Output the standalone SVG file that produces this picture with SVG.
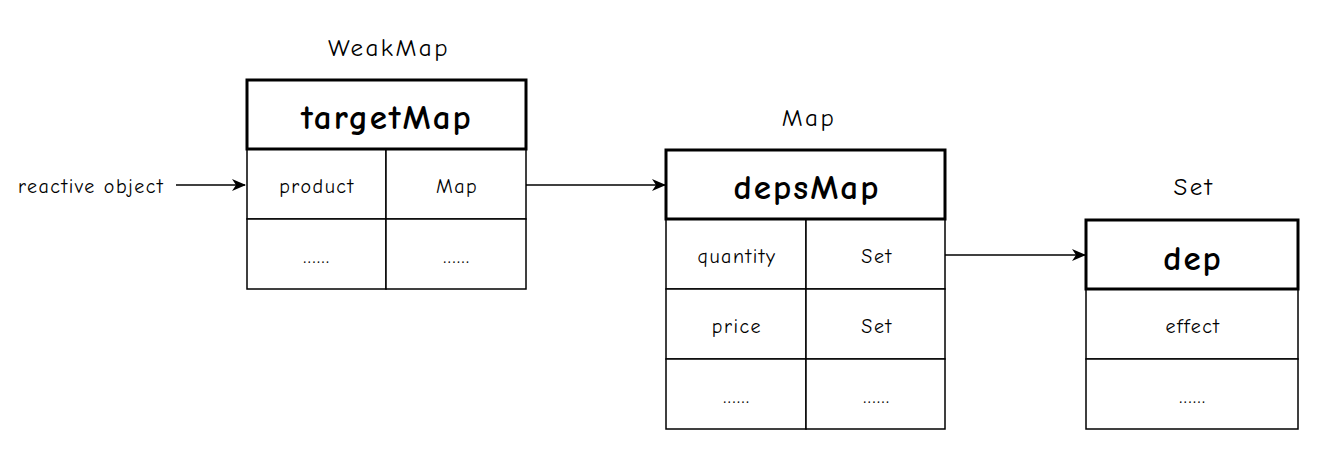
<svg xmlns="http://www.w3.org/2000/svg" width="1344" height="456" viewBox="0 0 1344 456">
<style>
text{font-family:"Comic Sans MS","Comic Neue","DejaVu Sans","Noto Sans",sans-serif;fill:#000;text-anchor:middle;dominant-baseline:central}
.t{font-size:25px;letter-spacing:2.5px}
.h{font-size:35px;font-weight:bold;letter-spacing:2px}
.c{font-size:20px;letter-spacing:1.5px}
.head{fill:#fff;stroke:#000;stroke-width:3}
.cell{fill:#fff;stroke:#000;stroke-width:1.5}
.edge{stroke:#000;stroke-width:1.5;fill:none;marker-end:url(#arr)}
</style>
<defs>
<marker id="arr" viewBox="0 0 14 14" refX="13" refY="7" markerWidth="14" markerHeight="14" markerUnits="userSpaceOnUse" orient="auto">
<path d="M0,1 L14,7 L0,13 L4,7 Z" fill="#000"/>
</marker>
</defs>
<rect width="1344" height="456" fill="#fff"/>
<g id="targetMap">
<text class="t" x="389" y="47">WeakMap</text>
<rect class="cell" x="247" y="149" width="139" height="70"/>
<rect class="cell" x="386" y="149" width="140" height="70"/>
<rect class="cell" x="247" y="219" width="139" height="70"/>
<rect class="cell" x="386" y="219" width="140" height="70"/>
<rect class="head" x="247" y="80" width="279" height="69"/>
<text class="h" x="387" y="117">targetMap</text>
<text class="c" x="317" y="186">product</text>
<text class="c" x="457" y="186">Map</text>
<text class="c" x="317" y="256">......</text>
<text class="c" x="457" y="256">......</text>
</g>
<g id="depsMap">
<text class="t" x="809" y="117">Map</text>
<rect class="cell" x="666" y="219" width="140" height="70"/>
<rect class="cell" x="806" y="219" width="139" height="70"/>
<rect class="cell" x="666" y="289" width="140" height="70"/>
<rect class="cell" x="806" y="289" width="139" height="70"/>
<rect class="cell" x="666" y="359" width="140" height="70"/>
<rect class="cell" x="806" y="359" width="139" height="70"/>
<rect class="head" x="666" y="150" width="279" height="69"/>
<text class="h" x="807" y="187">depsMap</text>
<text class="c" x="737" y="256">quantity</text>
<text class="c" x="877" y="256">Set</text>
<text class="c" x="737" y="326">price</text>
<text class="c" x="877" y="326">Set</text>
<text class="c" x="737" y="396">......</text>
<text class="c" x="877" y="396">......</text>
</g>
<g id="dep">
<text class="t" x="1194" y="186">Set</text>
<rect class="cell" x="1086" y="289" width="212" height="70"/>
<rect class="cell" x="1086" y="359" width="212" height="70"/>
<rect class="head" x="1086" y="220" width="212" height="69"/>
<text class="h" x="1193" y="258">dep</text>
<text class="c" x="1193" y="326">effect</text>
<text class="c" x="1193" y="396">......</text>
</g>
<g id="reactive">
<text class="c" x="91" y="186">reactive object</text>
</g>
<g id="connectors">
<path class="edge" d="M176,185 L245,185"/>
<path class="edge" d="M526,185 L665,185"/>
<path class="edge" d="M945,255 L1085,255"/>
</g>
</svg>
